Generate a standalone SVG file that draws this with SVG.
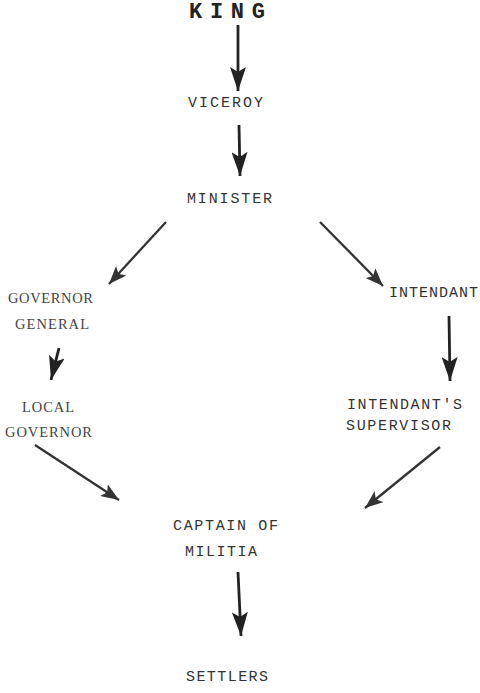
<svg xmlns="http://www.w3.org/2000/svg" width="480" height="693" viewBox="0 0 480 693">
<defs>
<marker id="ah" markerUnits="userSpaceOnUse" markerWidth="26" markerHeight="16" refX="24" refY="8" orient="auto">
<path d="M0,0 L24,8 L0,16 L5,8 Z" fill="#222"/>
</marker>
<marker id="ahs" markerUnits="userSpaceOnUse" markerWidth="20" markerHeight="14" refX="18" refY="7" orient="auto">
<path d="M0,0 L18,7 L0,14 L4,7 Z" fill="#333"/>
</marker>
</defs>
<style>
.t{font-family:"Liberation Mono","DejaVu Sans Mono",monospace;font-size:15px;fill:#333}
.s{font-family:"Liberation Serif","DejaVu Serif",serif;font-size:14.5px;fill:#444}
.k{font-family:"Liberation Mono","DejaVu Sans Mono",monospace;font-size:22px;font-weight:bold;fill:#222}
.c{stroke:#222;stroke-width:2.8;fill:none}
.d{stroke:#333;stroke-width:2.3;fill:none}
</style>
<rect width="480" height="693" fill="#fff"/>
<g id="connectors">
<line class="c" x1="238" y1="25" x2="238" y2="91" marker-end="url(#ah)"/>
<line class="c" x1="239" y1="125" x2="240" y2="176" marker-end="url(#ah)"/>
<line class="d" x1="166" y1="222" x2="109" y2="284" marker-end="url(#ahs)"/>
<line class="d" x1="320" y1="222" x2="383" y2="286" marker-end="url(#ahs)"/>
<line class="c" x1="59" y1="348" x2="51" y2="380" marker-end="url(#ah)"/>
<line class="c" x1="449" y1="316" x2="450" y2="381" marker-end="url(#ah)"/>
<line class="d" x1="35" y1="445" x2="119" y2="500" marker-end="url(#ahs)"/>
<line class="d" x1="440" y1="447" x2="365" y2="508" marker-end="url(#ahs)"/>
<line class="c" x1="238" y1="572" x2="241" y2="636" marker-end="url(#ah)"/>
</g>
<g id="king"><text class="k" x="189" y="18" textLength="76" lengthAdjust="spacing">KING</text></g>
<g id="viceroy"><text class="t" x="188" y="107" textLength="75" lengthAdjust="spacing">VICEROY</text></g>
<g id="minister"><text class="t" x="187" y="203" textLength="85" lengthAdjust="spacing">MINISTER</text></g>
<g id="governor-general">
<text class="s" x="8" y="303" textLength="85" lengthAdjust="spacing">GOVERNOR</text>
<text class="s" x="15" y="329" textLength="74" lengthAdjust="spacing">GENERAL</text>
</g>
<g id="local-governor">
<text class="s" x="22" y="412" textLength="52" lengthAdjust="spacing">LOCAL</text>
<text class="s" x="5" y="437" textLength="87" lengthAdjust="spacing">GOVERNOR</text>
</g>
<g id="intendant"><text class="t" x="389" y="297" textLength="89" lengthAdjust="spacing">INTENDANT</text></g>
<g id="intendants-supervisor">
<text class="t" x="347" y="409" textLength="115" lengthAdjust="spacing">INTENDANT'S</text>
<text class="t" x="346" y="430" textLength="105" lengthAdjust="spacing">SUPERVISOR</text>
</g>
<g id="captain-of-militia">
<text class="t" x="173" y="530" textLength="105" lengthAdjust="spacing">CAPTAIN OF</text>
<text class="t" x="185" y="556" textLength="72" lengthAdjust="spacing">MILITIA</text>
</g>
<g id="settlers"><text class="t" x="186" y="681" textLength="82" lengthAdjust="spacing">SETTLERS</text></g>
</svg>
